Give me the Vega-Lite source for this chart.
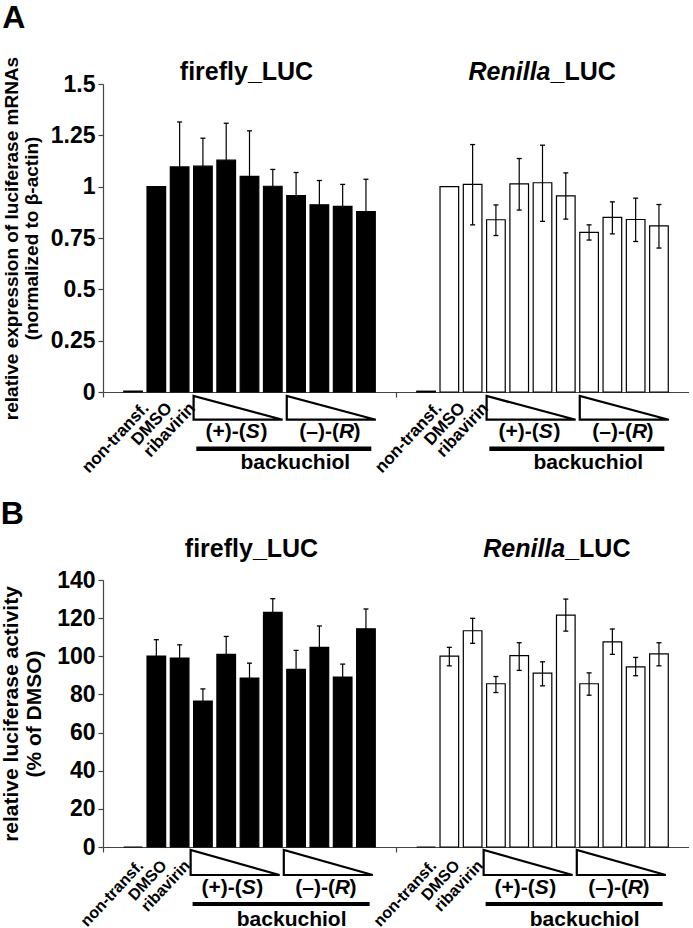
{
  "$schema": "https://vega.github.io/schema/vega-lite/v6.json",
  "background": "white",
  "padding": {"left": 0, "top": 2, "right": 0, "bottom": 0},
  "config": {
    "font": "Liberation Sans",
    "view": {"stroke": null},
    "axis": {"tickSize": 5, "tickColor": "#444", "tickWidth": 1.2, "domainColor": "#444", "domainWidth": 1.2, "grid": false,
             "labelColor": "black", "titleColor": "black", "labelFontWeight": "bold", "titleFontWeight": "bold",
             "labelFontSize": 23, "labelOverlap": false, "labelPadding": 3, "labelFlush": false}
  },
  "datasets": {
    "A": [
      {"reporter": "firefly", "treatment": "non-transf.", "value": 0.004, "lo": null, "hi": null},
      {"reporter": "firefly", "treatment": "DMSO", "value": 1.0, "lo": null, "hi": null},
      {"reporter": "firefly", "treatment": "ribavirin", "value": 1.096, "lo": 0.877, "hi": 1.315},
      {"reporter": "firefly", "treatment": "S1", "value": 1.1, "lo": 0.964, "hi": 1.236},
      {"reporter": "firefly", "treatment": "S2", "value": 1.129, "lo": 0.949, "hi": 1.309},
      {"reporter": "firefly", "treatment": "S3", "value": 1.05, "lo": 0.828, "hi": 1.272},
      {"reporter": "firefly", "treatment": "S4", "value": 1.002, "lo": 0.92, "hi": 1.084},
      {"reporter": "firefly", "treatment": "R1", "value": 0.957, "lo": 0.845, "hi": 1.069},
      {"reporter": "firefly", "treatment": "R2", "value": 0.912, "lo": 0.794, "hi": 1.03},
      {"reporter": "firefly", "treatment": "R3", "value": 0.904, "lo": 0.797, "hi": 1.011},
      {"reporter": "firefly", "treatment": "R4", "value": 0.879, "lo": 0.722, "hi": 1.036},
      {"reporter": "Renilla", "treatment": "non-transf.", "value": 0.004, "lo": null, "hi": null},
      {"reporter": "Renilla", "treatment": "DMSO", "value": 1.0, "lo": null, "hi": null},
      {"reporter": "Renilla", "treatment": "ribavirin", "value": 1.011, "lo": 0.814, "hi": 1.205},
      {"reporter": "Renilla", "treatment": "S1", "value": 0.839, "lo": 0.762, "hi": 0.911},
      {"reporter": "Renilla", "treatment": "S2", "value": 1.014, "lo": 0.886, "hi": 1.137},
      {"reporter": "Renilla", "treatment": "S3", "value": 1.019, "lo": 0.831, "hi": 1.202},
      {"reporter": "Renilla", "treatment": "S4", "value": 0.955, "lo": 0.842, "hi": 1.067},
      {"reporter": "Renilla", "treatment": "R1", "value": 0.777, "lo": 0.74, "hi": 0.814},
      {"reporter": "Renilla", "treatment": "R2", "value": 0.85, "lo": 0.77, "hi": 0.926},
      {"reporter": "Renilla", "treatment": "R3", "value": 0.84, "lo": 0.733, "hi": 0.944},
      {"reporter": "Renilla", "treatment": "R4", "value": 0.809, "lo": 0.701, "hi": 0.913}
    ],
    "B": [
      {"reporter": "firefly", "treatment": "non-transf.", "value": 0, "lo": null, "hi": null},
      {"reporter": "firefly", "treatment": "DMSO", "value": 100.1, "lo": 91.5, "hi": 108.7},
      {"reporter": "firefly", "treatment": "ribavirin", "value": 99.1, "lo": 92.2, "hi": 106.0},
      {"reporter": "firefly", "treatment": "S1", "value": 76.5, "lo": 70.1, "hi": 82.9},
      {"reporter": "firefly", "treatment": "S2", "value": 101.0, "lo": 91.6, "hi": 110.4},
      {"reporter": "firefly", "treatment": "S3", "value": 88.6, "lo": 80.8, "hi": 96.4},
      {"reporter": "firefly", "treatment": "S4", "value": 123.0, "lo": 115.8, "hi": 130.2},
      {"reporter": "firefly", "treatment": "R1", "value": 93.1, "lo": 83.1, "hi": 103.1},
      {"reporter": "firefly", "treatment": "R2", "value": 104.7, "lo": 93.5, "hi": 115.9},
      {"reporter": "firefly", "treatment": "R3", "value": 89.1, "lo": 82.3, "hi": 95.9},
      {"reporter": "firefly", "treatment": "R4", "value": 114.4, "lo": 104.0, "hi": 124.8},
      {"reporter": "Renilla", "treatment": "non-transf.", "value": 0, "lo": null, "hi": null},
      {"reporter": "Renilla", "treatment": "DMSO", "value": 100.1, "lo": 95.0, "hi": 104.7},
      {"reporter": "Renilla", "treatment": "ribavirin", "value": 113.4, "lo": 106.8, "hi": 119.9},
      {"reporter": "Renilla", "treatment": "S1", "value": 85.6, "lo": 81.0, "hi": 89.4},
      {"reporter": "Renilla", "treatment": "S2", "value": 100.3, "lo": 92.6, "hi": 107.1},
      {"reporter": "Renilla", "treatment": "S3", "value": 91.2, "lo": 84.5, "hi": 97.1},
      {"reporter": "Renilla", "treatment": "S4", "value": 121.6, "lo": 113.2, "hi": 130.0},
      {"reporter": "Renilla", "treatment": "R1", "value": 85.6, "lo": 79.6, "hi": 91.3},
      {"reporter": "Renilla", "treatment": "R2", "value": 107.6, "lo": 101.0, "hi": 114.3},
      {"reporter": "Renilla", "treatment": "R3", "value": 94.5, "lo": 89.8, "hi": 99.4},
      {"reporter": "Renilla", "treatment": "R4", "value": 101.3, "lo": 95.0, "hi": 107.1}
    ],
    "labs": [
      {"reporter": "firefly", "treatment": "non-transf."},
      {"reporter": "firefly", "treatment": "DMSO"},
      {"reporter": "firefly", "treatment": "ribavirin"},
      {"reporter": "Renilla", "treatment": "non-transf."},
      {"reporter": "Renilla", "treatment": "DMSO"},
      {"reporter": "Renilla", "treatment": "ribavirin"}
    ],
    "wedge": [
      {"reporter": "firefly", "treatment": "S1"},
      {"reporter": "firefly", "treatment": "R1"},
      {"reporter": "Renilla", "treatment": "S1"},
      {"reporter": "Renilla", "treatment": "R1"}
    ],
    "wlab": [
      {"reporter": "firefly", "treatment": "S2", "a": "(+)-(", "b": "S"},
      {"reporter": "firefly", "treatment": "R2", "a": "(–)-(", "b": "R"},
      {"reporter": "Renilla", "treatment": "S2", "a": "(+)-(", "b": "S"},
      {"reporter": "Renilla", "treatment": "R2", "a": "(–)-(", "b": "R"}
    ],
    "bk": [
      {"reporter": "firefly", "treatment": "S1", "t": "backuchiol"},
      {"reporter": "Renilla", "treatment": "S1", "t": "backuchiol"}
    ],
    "ttlF": [{"reporter": "firefly", "t": "firefly_LUC"}],
    "ttlR": [{"reporter": "Renilla", "a": "Renilla", "b": "_LUC"}]
  },
  "columns": 1,
  "align": "none",
  "spacing": 22,
  "concat": [
    {
      "title": {"text": "A", "anchor": "start", "frame": "bounds", "fontSize": 32, "fontWeight": "bold", "color": "black", "offset": 21},
      "width": 586,
      "height": 308,
      "layer": [
        {
          "data": {"name": "A"},
          "mark": {"type": "bar", "stroke": "black", "strokeWidth": 1.2, "opacity": 1},
          "encoding": {
            "x": {"field": "reporter", "type": "nominal", "scale": {"domain": ["firefly", "Renilla"], "paddingInner": 0, "paddingOuter": 0}, "axis": {"labels": false, "title": null, "bandPosition": 0}},
            "xOffset": {"field": "treatment", "type": "nominal", "scale": {"domain": ["non-transf.", "DMSO", "ribavirin", "S1", "S2", "S3", "S4", "R1", "R2", "R3", "R4"], "paddingInner": 0.2, "paddingOuter": 0.89}},
            "y": {"field": "value", "type": "quantitative", "scale": {"domain": [0, 1.5], "nice": false},
                  "axis": {"values": [0, 0.25, 0.5, 0.75, 1, 1.25, 1.5], "labelExpr": "toString(datum.value)", "title": ["relative expression of luciferase mRNAs", "(normalized to β-actin)"], "titleFontSize": 19, "titleLineHeight": 20, "titlePadding": 9}},
            "fill": {"field": "reporter", "type": "nominal", "scale": {"domain": ["firefly", "Renilla"], "range": ["black", "white"]}, "legend": null}
          }
        },
        {
          "data": {"name": "A"},
          "mark": {"type": "rule", "color": "black", "strokeWidth": 1.2},
          "encoding": {
            "x": {"field": "reporter", "type": "nominal", "axis": {"labels": false, "title": null, "bandPosition": 0}},
            "xOffset": {"field": "treatment", "type": "nominal"},
            "y": {"field": "lo", "type": "quantitative", "axis": {"values": [0, 0.25, 0.5, 0.75, 1, 1.25, 1.5], "labelExpr": "toString(datum.value)", "title": ["relative expression of luciferase mRNAs", "(normalized to β-actin)"], "titleFontSize": 19, "titleLineHeight": 20, "titlePadding": 9}},
            "y2": {"field": "hi"}
          }
        },
        {
          "data": {"name": "A"},
          "mark": {"type": "tick", "orient": "horizontal", "size": 5, "thickness": 1.3, "color": "black", "opacity": 1},
          "encoding": {
            "x": {"field": "reporter", "type": "nominal", "axis": {"labels": false, "title": null, "bandPosition": 0}},
            "xOffset": {"field": "treatment", "type": "nominal"},
            "y": {"field": "hi", "type": "quantitative", "axis": {"values": [0, 0.25, 0.5, 0.75, 1, 1.25, 1.5], "labelExpr": "toString(datum.value)", "title": ["relative expression of luciferase mRNAs", "(normalized to β-actin)"], "titleFontSize": 19, "titleLineHeight": 20, "titlePadding": 9}}
          }
        },
        {
          "data": {"name": "A"},
          "mark": {"type": "tick", "orient": "horizontal", "size": 5, "thickness": 1.3, "color": "black", "opacity": 1},
          "encoding": {
            "x": {"field": "reporter", "type": "nominal", "axis": {"labels": false, "title": null, "bandPosition": 0}},
            "xOffset": {"field": "treatment", "type": "nominal"},
            "y": {"field": "lo", "type": "quantitative", "axis": {"values": [0, 0.25, 0.5, 0.75, 1, 1.25, 1.5], "labelExpr": "toString(datum.value)", "title": ["relative expression of luciferase mRNAs", "(normalized to β-actin)"], "titleFontSize": 19, "titleLineHeight": 20, "titlePadding": 9}}
          }
        },
        {
          "data": {"name": "ttlF"},
          "mark": {"type": "text", "fontSize": 25, "fontWeight": "bold", "color": "black", "align": "center", "baseline": "alphabetic", "dx": -3, "dy": -4},
          "encoding": {
            "x": {"field": "reporter", "type": "nominal", "axis": {"labels": false, "title": null, "bandPosition": 0}},
            "y": {"datum": 1.5, "type": "quantitative", "axis": {"values": [0, 0.25, 0.5, 0.75, 1, 1.25, 1.5], "labelExpr": "toString(datum.value)", "title": ["relative expression of luciferase mRNAs", "(normalized to β-actin)"], "titleFontSize": 19, "titleLineHeight": 20, "titlePadding": 9}},
            "text": {"field": "t"}
          }
        },
        {
          "data": {"name": "ttlR"},
          "mark": {"type": "text", "fontSize": 25, "fontWeight": "bold", "fontStyle": "italic", "color": "black", "align": "right", "baseline": "alphabetic", "dx": 8, "dy": -4},
          "encoding": {
            "x": {"field": "reporter", "type": "nominal", "axis": {"labels": false, "title": null, "bandPosition": 0}},
            "y": {"datum": 1.5, "type": "quantitative", "axis": {"values": [0, 0.25, 0.5, 0.75, 1, 1.25, 1.5], "labelExpr": "toString(datum.value)", "title": ["relative expression of luciferase mRNAs", "(normalized to β-actin)"], "titleFontSize": 19, "titleLineHeight": 20, "titlePadding": 9}},
            "text": {"field": "a"}
          }
        },
        {
          "data": {"name": "ttlR"},
          "mark": {"type": "text", "fontSize": 25, "fontWeight": "bold", "color": "black", "align": "left", "baseline": "alphabetic", "dx": 8, "dy": -4},
          "encoding": {
            "x": {"field": "reporter", "type": "nominal", "axis": {"labels": false, "title": null, "bandPosition": 0}},
            "y": {"datum": 1.5, "type": "quantitative", "axis": {"values": [0, 0.25, 0.5, 0.75, 1, 1.25, 1.5], "labelExpr": "toString(datum.value)", "title": ["relative expression of luciferase mRNAs", "(normalized to β-actin)"], "titleFontSize": 19, "titleLineHeight": 20, "titlePadding": 9}},
            "text": {"field": "b"}
          }
        },
        {
          "data": {"name": "labs"},
          "mark": {"type": "text", "fontSize": 17, "fontWeight": "bold", "color": "black", "angle": -47, "align": "right", "baseline": "top", "dx": -1, "dy": 10.6},
          "encoding": {
            "x": {"field": "reporter", "type": "nominal", "axis": {"labels": false, "title": null, "bandPosition": 0}},
            "xOffset": {"field": "treatment", "type": "nominal"},
            "y": {"datum": 0, "type": "quantitative", "axis": {"values": [0, 0.25, 0.5, 0.75, 1, 1.25, 1.5], "labelExpr": "toString(datum.value)", "title": ["relative expression of luciferase mRNAs", "(normalized to β-actin)"], "titleFontSize": 19, "titleLineHeight": 20, "titlePadding": 9}},
            "text": {"field": "treatment"}
          }
        },
        {
          "data": {"name": "wedge"},
          "mark": {"type": "point", "shape": "M-0.207,0.089L-0.207,0.616L1.771,0.616Z", "size": 8100, "filled": false, "color": "black", "strokeWidth": 2.2, "opacity": 1},
          "encoding": {
            "x": {"field": "reporter", "type": "nominal", "axis": {"labels": false, "title": null, "bandPosition": 0}},
            "xOffset": {"field": "treatment", "type": "nominal"},
            "y": {"datum": 0, "type": "quantitative", "axis": {"values": [0, 0.25, 0.5, 0.75, 1, 1.25, 1.5], "labelExpr": "toString(datum.value)", "title": ["relative expression of luciferase mRNAs", "(normalized to β-actin)"], "titleFontSize": 19, "titleLineHeight": 20, "titlePadding": 9}}
          }
        },
        {
          "data": {"name": "wlab"},
          "mark": {"type": "text", "fontSize": 21, "fontWeight": "bold", "color": "black", "align": "right", "baseline": "alphabetic", "dx": 19.6, "dy": 46},
          "encoding": {
            "x": {"field": "reporter", "type": "nominal", "axis": {"labels": false, "title": null, "bandPosition": 0}},
            "xOffset": {"field": "treatment", "type": "nominal"},
            "y": {"datum": 0, "type": "quantitative", "axis": {"values": [0, 0.25, 0.5, 0.75, 1, 1.25, 1.5], "labelExpr": "toString(datum.value)", "title": ["relative expression of luciferase mRNAs", "(normalized to β-actin)"], "titleFontSize": 19, "titleLineHeight": 20, "titlePadding": 9}},
            "text": {"field": "a"}
          }
        },
        {
          "data": {"name": "wlab"},
          "mark": {"type": "text", "fontSize": 21, "fontWeight": "bold", "fontStyle": "italic", "color": "black", "align": "left", "baseline": "alphabetic", "dx": 19.6, "dy": 46},
          "encoding": {
            "x": {"field": "reporter", "type": "nominal", "axis": {"labels": false, "title": null, "bandPosition": 0}},
            "xOffset": {"field": "treatment", "type": "nominal"},
            "y": {"datum": 0, "type": "quantitative", "axis": {"values": [0, 0.25, 0.5, 0.75, 1, 1.25, 1.5], "labelExpr": "toString(datum.value)", "title": ["relative expression of luciferase mRNAs", "(normalized to β-actin)"], "titleFontSize": 19, "titleLineHeight": 20, "titlePadding": 9}},
            "text": {"field": "b"}
          }
        },
        {
          "data": {"name": "wlab"},
          "mark": {"type": "text", "fontSize": 21, "fontWeight": "bold", "color": "black", "align": "left", "baseline": "alphabetic", "dx": 34.2, "dy": 46, "text": ")"},
          "encoding": {
            "x": {"field": "reporter", "type": "nominal", "axis": {"labels": false, "title": null, "bandPosition": 0}},
            "xOffset": {"field": "treatment", "type": "nominal"},
            "y": {"datum": 0, "type": "quantitative", "axis": {"values": [0, 0.25, 0.5, 0.75, 1, 1.25, 1.5], "labelExpr": "toString(datum.value)", "title": ["relative expression of luciferase mRNAs", "(normalized to β-actin)"], "titleFontSize": 19, "titleLineHeight": 20, "titlePadding": 9}}
          }
        },
        {
          "data": {"name": "bk"},
          "mark": {"type": "point", "shape": "M-0.066,0.545L1.684,0.545L1.684,0.59L-0.066,0.59Z", "size": 40000, "filled": true, "color": "black", "strokeWidth": 0, "opacity": 1},
          "encoding": {
            "x": {"field": "reporter", "type": "nominal", "axis": {"labels": false, "title": null, "bandPosition": 0}},
            "xOffset": {"field": "treatment", "type": "nominal"},
            "y": {"datum": 0, "type": "quantitative", "axis": {"values": [0, 0.25, 0.5, 0.75, 1, 1.25, 1.5], "labelExpr": "toString(datum.value)", "title": ["relative expression of luciferase mRNAs", "(normalized to β-actin)"], "titleFontSize": 19, "titleLineHeight": 20, "titlePadding": 9}}
          }
        },
        {
          "data": {"name": "bk"},
          "mark": {"type": "text", "fontSize": 21, "fontWeight": "bold", "color": "black", "align": "center", "baseline": "alphabetic", "dx": 92.4, "dy": 77},
          "encoding": {
            "x": {"field": "reporter", "type": "nominal", "axis": {"labels": false, "title": null, "bandPosition": 0}},
            "xOffset": {"field": "treatment", "type": "nominal"},
            "y": {"datum": 0, "type": "quantitative", "axis": {"values": [0, 0.25, 0.5, 0.75, 1, 1.25, 1.5], "labelExpr": "toString(datum.value)", "title": ["relative expression of luciferase mRNAs", "(normalized to β-actin)"], "titleFontSize": 19, "titleLineHeight": 20, "titlePadding": 9}},
            "text": {"field": "t"}
          }
        }
      ]
    },
    {
      "title": {"text": "B", "anchor": "start", "frame": "bounds", "fontSize": 32, "fontWeight": "bold", "color": "black", "offset": 6},
      "width": 586,
      "height": 267,
      "layer": [
        {
          "data": {"name": "B"},
          "mark": {"type": "bar", "stroke": "black", "strokeWidth": 1.2, "opacity": 1},
          "encoding": {
            "x": {"field": "reporter", "type": "nominal", "scale": {"domain": ["firefly", "Renilla"], "paddingInner": 0, "paddingOuter": 0}, "axis": {"labels": false, "title": null, "bandPosition": 0}},
            "xOffset": {"field": "treatment", "type": "nominal", "scale": {"domain": ["non-transf.", "DMSO", "ribavirin", "S1", "S2", "S3", "S4", "R1", "R2", "R3", "R4"], "paddingInner": 0.2, "paddingOuter": 0.89}},
            "y": {"field": "value", "type": "quantitative", "scale": {"domain": [0, 140], "nice": false},
                  "axis": {"values": [0, 20, 40, 60, 80, 100, 120, 140], "labelExpr": "toString(datum.value)", "title": ["relative luciferase activity", "(% of DMSO)"], "titleFontSize": 21, "titleLineHeight": 23, "titlePadding": 12}},
            "fill": {"field": "reporter", "type": "nominal", "scale": {"domain": ["firefly", "Renilla"], "range": ["black", "white"]}, "legend": null}
          }
        },
        {
          "data": {"name": "B"},
          "mark": {"type": "rule", "color": "black", "strokeWidth": 1.2},
          "encoding": {
            "x": {"field": "reporter", "type": "nominal", "axis": {"labels": false, "title": null, "bandPosition": 0}},
            "xOffset": {"field": "treatment", "type": "nominal"},
            "y": {"field": "lo", "type": "quantitative", "axis": {"values": [0, 20, 40, 60, 80, 100, 120, 140], "labelExpr": "toString(datum.value)", "title": ["relative luciferase activity", "(% of DMSO)"], "titleFontSize": 21, "titleLineHeight": 23, "titlePadding": 12}},
            "y2": {"field": "hi"}
          }
        },
        {
          "data": {"name": "B"},
          "mark": {"type": "tick", "orient": "horizontal", "size": 5, "thickness": 1.3, "color": "black", "opacity": 1},
          "encoding": {
            "x": {"field": "reporter", "type": "nominal", "axis": {"labels": false, "title": null, "bandPosition": 0}},
            "xOffset": {"field": "treatment", "type": "nominal"},
            "y": {"field": "hi", "type": "quantitative", "axis": {"values": [0, 20, 40, 60, 80, 100, 120, 140], "labelExpr": "toString(datum.value)", "title": ["relative luciferase activity", "(% of DMSO)"], "titleFontSize": 21, "titleLineHeight": 23, "titlePadding": 12}}
          }
        },
        {
          "data": {"name": "B"},
          "mark": {"type": "tick", "orient": "horizontal", "size": 5, "thickness": 1.3, "color": "black", "opacity": 1},
          "encoding": {
            "x": {"field": "reporter", "type": "nominal", "axis": {"labels": false, "title": null, "bandPosition": 0}},
            "xOffset": {"field": "treatment", "type": "nominal"},
            "y": {"field": "lo", "type": "quantitative", "axis": {"values": [0, 20, 40, 60, 80, 100, 120, 140], "labelExpr": "toString(datum.value)", "title": ["relative luciferase activity", "(% of DMSO)"], "titleFontSize": 21, "titleLineHeight": 23, "titlePadding": 12}}
          }
        },
        {
          "data": {"name": "ttlF"},
          "mark": {"type": "text", "fontSize": 25, "fontWeight": "bold", "color": "black", "align": "center", "baseline": "alphabetic", "dx": 2, "dy": -23},
          "encoding": {
            "x": {"field": "reporter", "type": "nominal", "axis": {"labels": false, "title": null, "bandPosition": 0}},
            "y": {"datum": 140, "type": "quantitative", "axis": {"values": [0, 20, 40, 60, 80, 100, 120, 140], "labelExpr": "toString(datum.value)", "title": ["relative luciferase activity", "(% of DMSO)"], "titleFontSize": 21, "titleLineHeight": 23, "titlePadding": 12}},
            "text": {"field": "t"}
          }
        },
        {
          "data": {"name": "ttlR"},
          "mark": {"type": "text", "fontSize": 25, "fontWeight": "bold", "fontStyle": "italic", "color": "black", "align": "right", "baseline": "alphabetic", "dx": 22.7, "dy": -23},
          "encoding": {
            "x": {"field": "reporter", "type": "nominal", "axis": {"labels": false, "title": null, "bandPosition": 0}},
            "y": {"datum": 140, "type": "quantitative", "axis": {"values": [0, 20, 40, 60, 80, 100, 120, 140], "labelExpr": "toString(datum.value)", "title": ["relative luciferase activity", "(% of DMSO)"], "titleFontSize": 21, "titleLineHeight": 23, "titlePadding": 12}},
            "text": {"field": "a"}
          }
        },
        {
          "data": {"name": "ttlR"},
          "mark": {"type": "text", "fontSize": 25, "fontWeight": "bold", "color": "black", "align": "left", "baseline": "alphabetic", "dx": 22.7, "dy": -23},
          "encoding": {
            "x": {"field": "reporter", "type": "nominal", "axis": {"labels": false, "title": null, "bandPosition": 0}},
            "y": {"datum": 140, "type": "quantitative", "axis": {"values": [0, 20, 40, 60, 80, 100, 120, 140], "labelExpr": "toString(datum.value)", "title": ["relative luciferase activity", "(% of DMSO)"], "titleFontSize": 21, "titleLineHeight": 23, "titlePadding": 12}},
            "text": {"field": "b"}
          }
        },
        {
          "data": {"name": "labs"},
          "mark": {"type": "text", "fontSize": 16, "fontWeight": "bold", "color": "black", "angle": -47, "align": "right", "baseline": "top", "dx": -6.5, "dy": 8.5},
          "encoding": {
            "x": {"field": "reporter", "type": "nominal", "axis": {"labels": false, "title": null, "bandPosition": 0}},
            "xOffset": {"field": "treatment", "type": "nominal"},
            "y": {"datum": 0, "type": "quantitative", "axis": {"values": [0, 20, 40, 60, 80, 100, 120, 140], "labelExpr": "toString(datum.value)", "title": ["relative luciferase activity", "(% of DMSO)"], "titleFontSize": 21, "titleLineHeight": 23, "titlePadding": 12}},
            "text": {"field": "treatment"}
          }
        },
        {
          "data": {"name": "wedge"},
          "mark": {"type": "point", "shape": "M-0.273,0.067L-0.273,0.622L1.704,0.622Z", "size": 8100, "filled": false, "color": "black", "strokeWidth": 2.2, "opacity": 1},
          "encoding": {
            "x": {"field": "reporter", "type": "nominal", "axis": {"labels": false, "title": null, "bandPosition": 0}},
            "xOffset": {"field": "treatment", "type": "nominal"},
            "y": {"datum": 0, "type": "quantitative", "axis": {"values": [0, 20, 40, 60, 80, 100, 120, 140], "labelExpr": "toString(datum.value)", "title": ["relative luciferase activity", "(% of DMSO)"], "titleFontSize": 21, "titleLineHeight": 23, "titlePadding": 12}}
          }
        },
        {
          "data": {"name": "wlab"},
          "mark": {"type": "text", "fontSize": 21, "fontWeight": "bold", "color": "black", "align": "right", "baseline": "alphabetic", "dx": 15.5, "dy": 46.6},
          "encoding": {
            "x": {"field": "reporter", "type": "nominal", "axis": {"labels": false, "title": null, "bandPosition": 0}},
            "xOffset": {"field": "treatment", "type": "nominal"},
            "y": {"datum": 0, "type": "quantitative", "axis": {"values": [0, 20, 40, 60, 80, 100, 120, 140], "labelExpr": "toString(datum.value)", "title": ["relative luciferase activity", "(% of DMSO)"], "titleFontSize": 21, "titleLineHeight": 23, "titlePadding": 12}},
            "text": {"field": "a"}
          }
        },
        {
          "data": {"name": "wlab"},
          "mark": {"type": "text", "fontSize": 21, "fontWeight": "bold", "fontStyle": "italic", "color": "black", "align": "left", "baseline": "alphabetic", "dx": 15.5, "dy": 46.6},
          "encoding": {
            "x": {"field": "reporter", "type": "nominal", "axis": {"labels": false, "title": null, "bandPosition": 0}},
            "xOffset": {"field": "treatment", "type": "nominal"},
            "y": {"datum": 0, "type": "quantitative", "axis": {"values": [0, 20, 40, 60, 80, 100, 120, 140], "labelExpr": "toString(datum.value)", "title": ["relative luciferase activity", "(% of DMSO)"], "titleFontSize": 21, "titleLineHeight": 23, "titlePadding": 12}},
            "text": {"field": "b"}
          }
        },
        {
          "data": {"name": "wlab"},
          "mark": {"type": "text", "fontSize": 21, "fontWeight": "bold", "color": "black", "align": "left", "baseline": "alphabetic", "dx": 30.1, "dy": 46.6, "text": ")"},
          "encoding": {
            "x": {"field": "reporter", "type": "nominal", "axis": {"labels": false, "title": null, "bandPosition": 0}},
            "xOffset": {"field": "treatment", "type": "nominal"},
            "y": {"datum": 0, "type": "quantitative", "axis": {"values": [0, 20, 40, 60, 80, 100, 120, 140], "labelExpr": "toString(datum.value)", "title": ["relative luciferase activity", "(% of DMSO)"], "titleFontSize": 21, "titleLineHeight": 23, "titlePadding": 12}}
          }
        },
        {
          "data": {"name": "bk"},
          "mark": {"type": "point", "shape": "M-0.103,0.55L1.667,0.55L1.667,0.59L-0.103,0.59Z", "size": 40000, "filled": true, "color": "black", "strokeWidth": 0, "opacity": 1},
          "encoding": {
            "x": {"field": "reporter", "type": "nominal", "axis": {"labels": false, "title": null, "bandPosition": 0}},
            "xOffset": {"field": "treatment", "type": "nominal"},
            "y": {"datum": 0, "type": "quantitative", "axis": {"values": [0, 20, 40, 60, 80, 100, 120, 140], "labelExpr": "toString(datum.value)", "title": ["relative luciferase activity", "(% of DMSO)"], "titleFontSize": 21, "titleLineHeight": 23, "titlePadding": 12}}
          }
        },
        {
          "data": {"name": "bk"},
          "mark": {"type": "text", "fontSize": 21, "fontWeight": "bold", "color": "black", "align": "center", "baseline": "alphabetic", "dx": 88.7, "dy": 78.5},
          "encoding": {
            "x": {"field": "reporter", "type": "nominal", "axis": {"labels": false, "title": null, "bandPosition": 0}},
            "xOffset": {"field": "treatment", "type": "nominal"},
            "y": {"datum": 0, "type": "quantitative", "axis": {"values": [0, 20, 40, 60, 80, 100, 120, 140], "labelExpr": "toString(datum.value)", "title": ["relative luciferase activity", "(% of DMSO)"], "titleFontSize": 21, "titleLineHeight": 23, "titlePadding": 12}},
            "text": {"field": "t"}
          }
        }
      ]
    }
  ]
}
